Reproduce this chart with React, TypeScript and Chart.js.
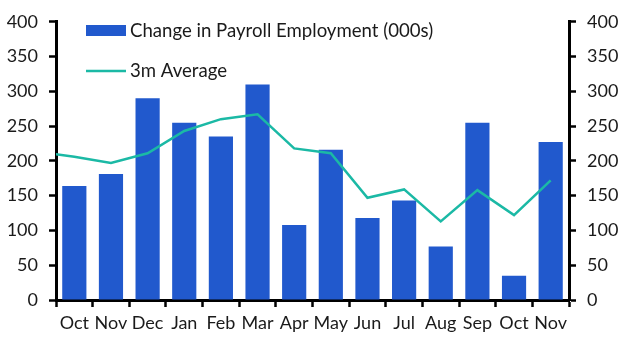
import React, { useEffect, useRef } from "react";
import { Chart, registerables } from "chart.js";

Chart.register(...registerables);

// The first entry is the month before the visible range; only its 3m-average
// line segment shows (clipped at the left axis).
const priorLabel = "Sep";
const categories = ["Oct", "Nov", "Dec", "Jan", "Feb", "Mar", "Apr", "May", "Jun", "Jul", "Aug", "Sep", "Oct", "Nov"];
const payrollChange = [164, 181, 290, 255, 235, 310, 108, 216, 118, 143, 77, 255, 35, 227];
const priorAverage = 213;
const threeMonthAverage = [206, 197, 211, 243, 260, 267, 218, 211, 147, 159, 113, 158, 122, 172];
const yTicks = [0, 50, 100, 150, 200, 250, 300, 350, 400];

const BAR_COLOR = "#2159CD";
const LINE_COLOR = "#1BB9A5";
const TEXT_COLOR = "#1a1a1a";
const FONT = "Lato, 'Noto Sans', sans-serif";

const legendPlugin = {
  id: "customLegend",
  afterDraw(chart: any) {
    const ctx = chart.ctx;
    const ds = chart.data.datasets;
    ctx.save();
    ctx.font = `18.6px ${FONT}`;
    ctx.textBaseline = "middle";
    ctx.fillStyle = BAR_COLOR;
    ctx.fillRect(86, 25, 40, 11);
    ctx.fillStyle = TEXT_COLOR;
    ctx.fillText(ds[0].label, 130, 31);
    ctx.strokeStyle = LINE_COLOR;
    ctx.lineWidth = 2.5;
    ctx.beginPath();
    ctx.moveTo(86, 71);
    ctx.lineTo(126, 71);
    ctx.stroke();
    ctx.fillText(ds[1].label, 130, 71);
    ctx.restore();
  },
};

export default function App() {
  const ref = useRef<HTMLCanvasElement | null>(null);
  useEffect(() => {
    if (!ref.current) return;
    const labels = [priorLabel, ...categories];
    const yCommon = (position: "left" | "right", width: number) => ({
      position,
      min: 0,
      max: 400,
      afterBuildTicks: (scale: any) => {
        scale.ticks = yTicks.map((v) => ({ value: v }));
      },
      afterFit: (scale: any) => {
        scale.width = width;
      },
      grid: {
        drawOnChartArea: false,
        drawTicks: true,
        tickLength: 7,
        tickWidth: 2.5,
        tickColor: "#000",
      },
      border: { display: true, color: "#000", width: 3 },
      ticks: {
        padding: 11,
        color: TEXT_COLOR,
        font: { family: FONT, size: 18 },
      },
    });
    const chart = new Chart(ref.current, {
      type: "bar",
      data: {
        labels,
        datasets: [
          {
            type: "bar",
            label: "Change in Payroll Employment (000s)",
            data: [null, ...payrollChange],
            backgroundColor: BAR_COLOR,
            barPercentage: 0.66,
            categoryPercentage: 1,
            yAxisID: "y",
            order: 2,
          },
          {
            type: "line",
            label: "3m Average",
            data: [priorAverage, ...threeMonthAverage],
            borderColor: LINE_COLOR,
            borderWidth: 2.5,
            pointRadius: 0,
            tension: 0,
            yAxisID: "y",
            clip: 0 as any,
            order: 1,
          } as any,
        ],
      },
      options: {
        animation: false,
        responsive: false,
        layout: { padding: { top: 15, left: 0, right: 0, bottom: 0 } },
        plugins: { legend: { display: false }, tooltip: { enabled: false } },
        scales: {
          x: {
            type: "category",
            min: 1,
            offset: true,
            afterFit: (scale: any) => {
              scale.height = 52;
            },
            grid: {
              offset: true,
              drawOnChartArea: false,
              tickLength: 7,
              tickWidth: 2.5,
              tickColor: "#000",
            },
            border: { display: true, color: "#000", width: 3 },
            ticks: {
              padding: 5,
              maxRotation: 0,
              autoSkip: false,
              color: TEXT_COLOR,
              font: { family: FONT, size: 18 },
            },
          },
          y: yCommon("left", 56) as any,
          y2: yCommon("right", 59) as any,
        },
      },
      plugins: [legendPlugin],
    });
    return () => chart.destroy();
  }, []);
  return (
    <div style={{ position: "fixed", left: 0, top: 0, width: 628, height: 352, background: "#fff" }}>
      <canvas ref={ref} width={628} height={352} style={{ width: 628, height: 352 }} />
    </div>
  );
}
